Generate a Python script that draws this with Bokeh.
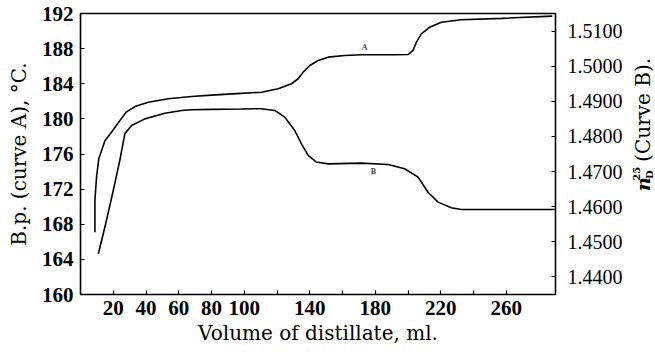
from bokeh.plotting import figure
from bokeh.models import Range1d, LinearAxis, FixedTicker, Label
from bokeh.layouts import row
from bokeh.core.properties import value
from bokeh.embed import file_html
from bokeh.resources import INLINE
import math

# Curve A: boiling point (deg C) vs volume of distillate (ml)
vol_a = [8.8, 8.8, 9.8, 11.2, 14.9, 19.0, 24.0, 28.1, 33.2, 41.4, 53.6, 67.8, 80, 98,
         110.5, 120.7, 128.8, 132.9, 135.9, 140.0, 145.1, 151.2, 161.3, 171.5, 191.8,
         200.0, 203.0, 205.1, 208.1, 213.2, 220.3, 232.5, 257, 288]
bp_a = [167.1, 170.7, 173.4, 175.5, 177.5, 178.5, 179.8, 180.8, 181.4, 181.9, 182.3,
        182.55, 182.7, 182.9, 183.04, 183.43, 184.0, 184.57, 185.32, 186.08, 186.65,
        187.03, 187.22, 187.3, 187.3, 187.33, 187.79, 188.74, 189.69, 190.44, 191.01,
        191.28, 191.45, 191.7]

# Curve B: refractive index n25D vs volume of distillate (ml)
vol_b = [10.9, 14.9, 20.0, 24.0, 27.1, 31.2, 39.3, 51.5, 61.7, 67.8, 80, 98, 110.5,
         118.6, 124.7, 130.8, 134.9, 139.0, 144.0, 151.2, 171.5, 187.8, 197.9, 206.1,
         212.2, 218.3, 226.4, 232.5, 289.5]
nd_b = [1.4466, 1.4542, 1.4646, 1.4732, 1.4808, 1.4831, 1.4850, 1.4866, 1.4874, 1.4876,
        1.4877, 1.4878, 1.4879, 1.4874, 1.4855, 1.4817, 1.4779, 1.4746, 1.4727, 1.4722,
        1.4724, 1.4720, 1.4708, 1.4684, 1.4641, 1.4613, 1.4597, 1.4592, 1.4592]

x_ticks = [20, 40, 60, 80, 100, 120, 140, 160, 180, 200, 220, 240, 260]
x_tick_labels = {20: "20", 40: "40", 60: "60", 80: "80", 100: "100", 120: "", 140: "140",
                 160: "", 180: "180", 200: "", 220: "220", 240: "", 260: "260"}
left_ticks = [160, 164, 168, 172, 176, 180, 184, 188, 192]
right_ticks = [1.44, 1.45, 1.46, 1.47, 1.48, 1.49, 1.50, 1.51]
right_tick_labels = {1.44: "1.4400", 1.45: "1.4500", 1.46: "1.4600", 1.47: "1.4700",
                     1.48: "1.4800", 1.49: "1.4900", 1.50: "1.5000", 1.51: "1.5100"}

TICKFONT = "Liberation Serif"
LABELFONT = "DejaVu Serif"

p = figure(width=625, height=358, output_backend="svg", toolbar_location=None,
           x_range=Range1d(0, 290), y_range=Range1d(160, 192),
           min_border_left=80, min_border_right=70, min_border_top=13, min_border_bottom=64)
p.extra_y_ranges = {"n": Range1d(1.435, 1.515)}

p.grid.visible = False
p.background_fill_color = "white"
p.border_fill_color = "white"
p.outline_line_color = "black"
p.outline_line_width = 1.6

xa = p.xaxis[0]
xa.ticker = FixedTicker(ticks=x_ticks)
xa.major_label_overrides = x_tick_labels
xa.axis_label = "Volume of distillate, ml."

ya = p.yaxis[0]
ya.ticker = FixedTicker(ticks=left_ticks)
ya.axis_label = "B.p. (curve A), °C."

ra = LinearAxis(y_range_name="n")
ra.ticker = FixedTicker(ticks=right_ticks)
ra.major_label_overrides = right_tick_labels
p.add_layout(ra, "right")

for ax in [xa, ya, ra]:
    ax.axis_line_color = None
    ax.major_tick_in = 4
    ax.major_tick_out = 0
    ax.major_tick_line_color = "black"
    ax.major_tick_line_width = 1.2
    ax.minor_tick_line_color = None
    ax.major_label_text_font = TICKFONT
    ax.major_label_text_color = "black"
    ax.axis_label_text_font = LABELFONT
    ax.axis_label_text_font_style = "normal"
    ax.axis_label_text_color = "black"

xa.axis_label_text_font_size = "20px"
ya.axis_label_text_font_size = "20px"
xa.major_label_text_font_size = "21px"
xa.major_label_text_font_style = "bold"
xa.major_label_standoff = 6
xa.axis_label_standoff = 3
ya.major_label_text_font_size = "21px"
ya.major_label_text_font_style = "bold"
ya.major_label_standoff = 7
ya.axis_label_standoff = 8
ra.major_label_text_font_size = "20px"
ra.major_label_text_font_style = "normal"
ra.major_label_standoff = 12

p.line(vol_a, bp_a, line_color="black", line_width=1.6)
p.line(vol_b, nd_b, line_color="black", line_width=1.6, y_range_name="n")

p.add_layout(Label(x=173.5, y=188.1, text="A", text_font=TICKFONT, text_font_size="8px",
                   text_font_style="bold", text_align="center", text_baseline="middle"))
p.add_layout(Label(x=178.8, y=174.0, text="B", text_font=TICKFONT, text_font_size="8px",
                   text_font_style="bold", text_align="center", text_baseline="middle"))

# narrow strip at the right holding the label of the right axis: n^25_D (Curve B).
q = figure(width=30, height=358, output_backend="svg", toolbar_location=None,
           x_range=Range1d(0, 30), y_range=Range1d(0, 358),
           min_border=0, min_border_left=0, min_border_right=0,
           min_border_top=0, min_border_bottom=0)
q.axis.visible = False
q.grid.visible = False
q.outline_line_color = None
q.background_fill_color = "white"
q.border_fill_color = "white"
rot = math.pi / 2
q.text(x=[17.5], y=[132], text=["n"], angle=rot, text_font=value(LABELFONT),
       text_font_size="19px", text_font_style="bold italic", text_align="left",
       text_baseline="middle", text_color="black")
q.text(x=[11], y=[145], text=["25"], angle=rot, text_font=value(LABELFONT),
       text_font_size="10px", text_font_style="bold", text_align="left",
       text_baseline="middle", text_color="black")
q.text(x=[23.5], y=[147], text=["D"], angle=rot, text_font=value(LABELFONT),
       text_font_size="10px", text_font_style="bold", text_align="left",
       text_baseline="middle", text_color="black")
q.text(x=[17.5], y=[169], text=["(Curve B)."], angle=rot, text_font=value(LABELFONT),
       text_font_size="20px", text_font_style="normal", text_align="left",
       text_baseline="middle", text_color="black")

layout = row(p, q, spacing=0)
open("out.html", "w").write(file_html(layout, INLINE))
